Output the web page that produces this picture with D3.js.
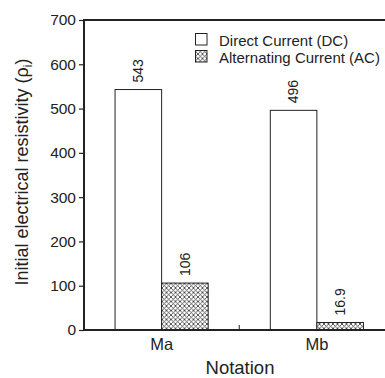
<!DOCTYPE html>
<html><head><meta charset="utf-8">
<script src="https://cdn.jsdelivr.net/npm/d3@7/dist/d3.min.js"></script>
<style>body{margin:0;background:#fff}svg{display:block}text{font-family:"Liberation Sans",Arial,sans-serif;fill:#222}</style>
</head><body><svg id="c" width="385" height="378"></svg>
<script>
const categories = ["Ma", "Mb"];
const seriesNames = ["Direct Current (DC)", "Alternating Current (AC)"];
const seriesKeys = ["DC", "AC"];
const dcValues = [543, 496];
const acValues = [106, 16.9];
const valueLabels = [["543", "106"], ["496", "16.9"]];
const yTicks = [0, 100, 200, 300, 400, 500, 600, 700];

const svg = d3.select("#c");
const m = {left: 84, top: 20, bottom: 330, right: 394.5};

const defs = svg.append("defs");
const pat = defs.append("pattern").attr("id", "hatch").attr("patternUnits", "userSpaceOnUse")
  .attr("width", 4.5).attr("height", 4.5);
pat.append("rect").attr("width", 4.5).attr("height", 4.5).attr("fill", "#fff");
pat.append("path").attr("d", "M0,0L4.5,4.5M4.5,0L0,4.5").attr("stroke", "#333").attr("stroke-width", 0.8);

const y = d3.scaleLinear().domain([0, 700]).range([m.bottom, m.top]);
const x = d3.scaleBand().domain(categories).range([m.left, m.right]).paddingInner(0).paddingOuter(0);
const xs = d3.scaleBand().domain(seriesKeys).range([0, x.bandwidth()]).paddingInner(0).paddingOuter(0.667);

const data = categories.map((c, i) => ({cat: c, vals: [dcValues[i], acValues[i]], labels: valueLabels[i]}));

// bars
const g = svg.append("g");
data.forEach(d => {
  seriesKeys.forEach((k, j) => {
    const bx = x(d.cat) + xs(k);
    g.append("rect").attr("x", bx).attr("y", y(d.vals[j]))
      .attr("width", xs.bandwidth()).attr("height", y(0) - y(d.vals[j]))
      .attr("fill", j === 0 ? "#fff" : "url(#hatch)").attr("stroke", "#222").attr("stroke-width", 1);
    const cx = bx + xs.bandwidth() / 2;
    const ty = y(d.vals[j]) - 7;
    g.append("text").attr("transform", `translate(${cx},${ty}) rotate(-90)`)
      .attr("dy", "0.35em").attr("text-anchor", "start").attr("font-size", 14).text(d.labels[j]);
  });
});

// y axis
const yAxis = svg.append("g").attr("transform", `translate(${m.left},0)`)
  .call(d3.axisLeft(y).tickValues(yTicks).tickSize(5).tickPadding(3).tickFormat(d3.format("d")));
yAxis.select(".domain").remove();
yAxis.selectAll("line").attr("stroke", "#222").attr("stroke-width", 1.2);
yAxis.selectAll("text").attr("font-size", 15.5).attr("fill", "#222").attr("font-family", "Liberation Sans, Arial, sans-serif");

// x axis
const xAxis = svg.append("g").attr("transform", `translate(0,${m.bottom})`)
  .call(d3.axisBottom(x).tickSize(0).tickPadding(8));
xAxis.select(".domain").remove();
xAxis.selectAll("text").attr("font-size", 16.5).attr("fill", "#222").attr("font-family", "Liberation Sans, Arial, sans-serif");
// minor tick between categories
svg.append("line").attr("x1", x("Mb")).attr("x2", x("Mb")).attr("y1", m.bottom).attr("y2", m.bottom - 5)
  .attr("stroke", "#222").attr("stroke-width", 1);

// frame
svg.append("path").attr("d", `M${m.right},${m.top}H${m.left}V${m.bottom}H${m.right}`)
  .attr("fill", "none").attr("stroke", "#222").attr("stroke-width", 2);

// axis titles
svg.append("text").attr("x", 240).attr("y", 374).attr("text-anchor", "middle").attr("font-size", 18.5).text("Notation");
const yt = svg.append("text").attr("transform", "translate(28,172) rotate(-90)").attr("text-anchor", "middle").attr("font-size", 18);
yt.append("tspan").text("Initial electrical resistivity (ρ");
yt.append("tspan").attr("font-size", 12).attr("dy", 4).text("i");
yt.append("tspan").attr("dy", -4).text(")");

// legend
const lg = svg.append("g");
seriesNames.forEach((n, i) => {
  lg.append("rect").attr("x", 195.5).attr("y", 33.5 + i * 17).attr("width", 11.5).attr("height", 11.5)
    .attr("fill", i === 0 ? "#fff" : "url(#hatch)").attr("stroke", "#222").attr("stroke-width", 1);
  lg.append("text").attr("x", 219).attr("y", 45.5 + i * 17).attr("font-size", 15).text(n);
});
</script></body></html>
